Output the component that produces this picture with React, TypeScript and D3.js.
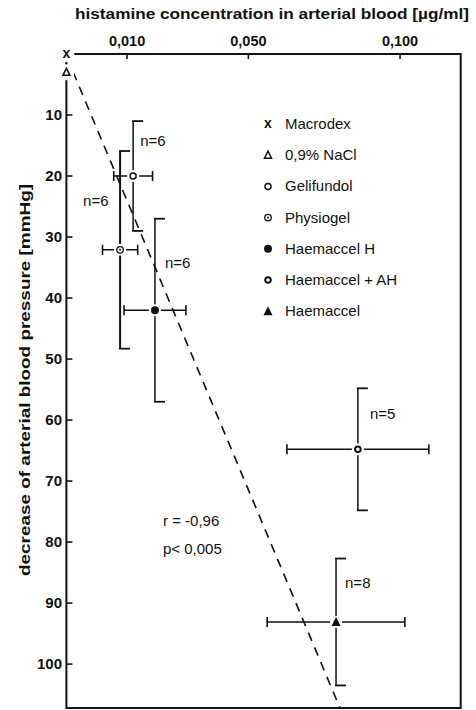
import React, { useEffect, useRef } from 'react';
import * as d3 from 'd3';

// groups, in legend order
const groups = ['Macrodex', '0,9% NaCl', 'Gelifundol', 'Physiogel', 'Haemaccel H', 'Haemaccel + AH', 'Haemaccel'];
const symbols = ['cross', 'openTriangle', 'open', 'dotted', 'filled', 'thick', 'triangle'];
// histamine concentration (µg/ml) and its spread
const concMean = [-0.01, -0.01, 0.012, 0.0077, 0.0192, 0.0861, 0.0789];
const concSd = [0, 0, 0.0064, 0.0058, 0.0102, 0.0234, 0.0227];
// decrease of arterial blood pressure (mmHg) and its spread
const bpMean = [0, 3, 20, 32.1, 42, 64.8, 93.1];
const bpSd = [0, 0, 9, 16.2, 15, 10, 10.4];
const counts = [null, null, 'n=6', 'n=6', 'n=6', 'n=5', 'n=8'];
const countOffset = [null, null, [7, -35], [-37, -49], [10, -47], [12, -35], [9, -39]];

const xTicks = [0.01, 0.05, 0.1];
const yTicks = [10, 20, 30, 40, 50, 60, 70, 80, 90, 100];
// regression line end points (conc, mmHg)
const fitLine: [number, number][] = [[-0.0078, 2.95], [0.0802, 107.2]];

const W = 476;
const H = 710;
const font = '"Liberation Sans", Arial, sans-serif';

export default function App() {
  const svgRef = useRef<SVGSVGElement>(null);

  useEffect(() => {
    document.body.style.margin = '0';
    const svg = d3.select(svgRef.current);
    svg.selectAll('*').remove();

    const x = d3.scaleLinear().domain([-0.01, 0.12]).range([66.4, 460.7]);
    const y = d3.scaleLinear().domain([0, 107.2]).range([54, 708]);
    const fmt = (v: number) => d3.format('.3f')(v).replace('.', ',');

    const g = svg.append('g').attr('font-family', font).attr('fill', '#111');

    // frame
    g.append('rect')
      .attr('x', x(-0.01)).attr('y', y(0))
      .attr('width', x(0.12) - x(-0.01)).attr('height', y(107.2) - y(0))
      .attr('fill', 'none').attr('stroke', '#111').attr('stroke-width', 2);

    // ticks
    xTicks.forEach(t => {
      g.append('line').attr('x1', x(t)).attr('x2', x(t)).attr('y1', y(0)).attr('y2', y(0) + 5)
        .attr('stroke', '#111').attr('stroke-width', 1.6);
      g.append('text').attr('x', x(t)).attr('y', 46).attr('text-anchor', 'middle')
        .attr('font-size', 14.5).attr('font-weight', 'bold').text(fmt(t));
    });
    yTicks.forEach(t => {
      g.append('line').attr('x1', x(-0.01)).attr('x2', x(-0.01) + 6).attr('y1', y(t)).attr('y2', y(t))
        .attr('stroke', '#111').attr('stroke-width', 1.6);
      g.append('text').attr('x', 62).attr('y', y(t) + 5).attr('text-anchor', 'end')
        .attr('font-size', 15).attr('font-weight', 'bold').text(t);
    });

    // axis titles
    g.append('text').attr('x', 75).attr('y', 19).attr('font-size', 15.5).attr('font-weight', 'bold')
      .attr('textLength', 394).attr('lengthAdjust', 'spacingAndGlyphs')
      .text('histamine concentration in arterial blood [µg/ml]');
    g.append('text').attr('transform', 'translate(30,380) rotate(-90)').attr('text-anchor', 'middle')
      .attr('font-size', 15.5).attr('font-weight', 'bold')
      .attr('textLength', 392).attr('lengthAdjust', 'spacingAndGlyphs')
      .text('decrease of arterial blood pressure [mmHg]');

    // regression line
    g.append('path').attr('d', d3.line()(fitLine.map(d => [x(d[0]), y(d[1])] as [number, number])))
      .attr('fill', 'none').attr('stroke', '#111').attr('stroke-width', 1.6).attr('stroke-dasharray', '9,7');

    // error bars
    groups.forEach((name, i) => {
      const cx = x(concMean[i]);
      const cy = y(bpMean[i]);
      const sw = i === 3 ? 2 : 1.5;
      if (bpSd[i] > 0) {
        const y0 = y(bpMean[i] - bpSd[i]);
        const y1 = y(bpMean[i] + bpSd[i]);
        g.append('line').attr('x1', cx).attr('x2', cx).attr('y1', y0).attr('y2', y1).attr('stroke', '#111').attr('stroke-width', sw);
        [y0, y1].forEach(yy => g.append('line').attr('x1', cx - 1).attr('x2', cx + 10).attr('y1', yy).attr('y2', yy)
          .attr('stroke', '#111').attr('stroke-width', 1.8));
      }
      if (concSd[i] > 0) {
        const x0 = x(concMean[i] - concSd[i]);
        const x1 = x(concMean[i] + concSd[i]);
        g.append('line').attr('x1', x0).attr('x2', x1).attr('y1', cy).attr('y2', cy).attr('stroke', '#111').attr('stroke-width', 1.5);
        [x0, x1].forEach(xx => g.append('line').attr('x1', xx).attr('x2', xx).attr('y1', cy - 5).attr('y2', cy + 5)
          .attr('stroke', '#111').attr('stroke-width', 1.6));
      }
    });

    const drawSymbol = (sel: any, kind: string, cx: number, cy: number, halo: number) => {
      if (halo > 0) sel.append('circle').attr('cx', cx).attr('cy', cy).attr('r', halo).attr('fill', '#fff');
      if (kind === 'cross') {
        sel.append('text').attr('x', cx).attr('y', cy + 4).attr('text-anchor', 'middle')
          .attr('font-size', 14).attr('font-weight', 'bold').text('x');
      } else if (kind === 'openTriangle') {
        sel.append('path').attr('d', `M${cx},${cy - 4}L${cx + 3.5},${cy + 3}L${cx - 3.5},${cy + 3}Z`)
          .attr('fill', 'none').attr('stroke', '#111').attr('stroke-width', 1.5);
      } else if (kind === 'triangle') {
        sel.append('path').attr('d', `M${cx},${cy - 5}L${cx + 4.5},${cy + 4}L${cx - 4.5},${cy + 4}Z`).attr('fill', '#111');
      } else if (kind === 'filled') {
        sel.append('circle').attr('cx', cx).attr('cy', cy).attr('r', 4).attr('fill', '#111');
      } else if (kind === 'dotted') {
        sel.append('circle').attr('cx', cx).attr('cy', cy).attr('r', 3.3).attr('fill', 'none').attr('stroke', '#111').attr('stroke-width', 1.3);
        sel.append('circle').attr('cx', cx).attr('cy', cy).attr('r', 1).attr('fill', '#111');
      } else if (kind === 'thick') {
        sel.append('circle').attr('cx', cx).attr('cy', cy).attr('r', 2.8).attr('fill', 'none').attr('stroke', '#111').attr('stroke-width', 2);
      } else {
        sel.append('circle').attr('cx', cx).attr('cy', cy).attr('r', 3).attr('fill', 'none').attr('stroke', '#111').attr('stroke-width', 1.5);
      }
    };

    // markers and n labels
    groups.forEach((name, i) => {
      const cx = x(concMean[i]);
      const cy = y(bpMean[i]);
      drawSymbol(g, symbols[i], cx, cy, i < 2 ? 8 : 6);
      const off = countOffset[i];
      if (counts[i] && off) {
        g.append('text').attr('x', cx + off[0]).attr('y', cy + off[1] + 5).attr('font-size', 15).text(counts[i] as string);
      }
    });

    // legend
    groups.forEach((name, i) => {
      const ly = 124 + i * 31.2;
      drawSymbol(g, symbols[i], 268, ly, 0);
      g.append('text').attr('x', 285).attr('y', ly + 5).attr('font-size', 15).text(name);
    });

    // statistics
    g.append('text').attr('x', 163).attr('y', 526).attr('font-size', 15).text('r = -0,96');
    g.append('text').attr('x', 163).attr('y', 554).attr('font-size', 15).text('p< 0,005');
  }, []);

  return (
    <svg ref={svgRef} width={W} height={H} style={{ display: 'block', background: '#fff' }} />
  );
}
